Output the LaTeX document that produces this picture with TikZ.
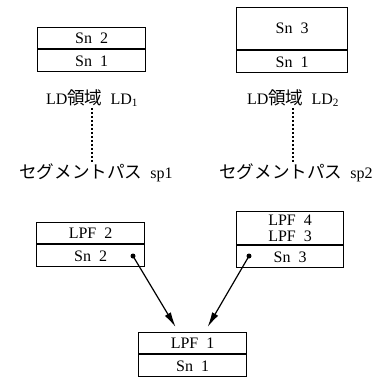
\documentclass[tikz,border=0pt]{standalone}
\usepackage{fontspec}
\setmainfont{Liberation Serif}
\newfontfamily\jpfont[Scale=1.1]{Noto Sans CJK JP}
\usetikzlibrary{arrows.meta,positioning,calc}

\tikzset{
  cell/.style={draw, line width=1.2pt, minimum width=108pt, minimum height=22pt, inner sep=0pt, font=\fontsize{16}{19}\selectfont},
  txt/.style={inner sep=1pt, font=\fontsize{16}{19}\selectfont},
  dot/.style={circle, fill, inner sep=0pt, minimum size=5pt},
  link/.style={line width=1.2pt, -{Latex[length=15pt,width=7pt]}},
  trail/.style={line width=1.6pt, dash pattern=on 2.5pt off 1.5pt}
}

\begin{document}
\begin{tikzpicture}[x=1pt, y=-1pt]
\useasboundingbox (0,0) rectangle (381,378);

% LD areas
\node[cell, anchor=north west, minimum height=21pt] (ldAtop) at (37,27) {Sn\enspace 2};
\node[cell, below=0pt of ldAtop] (ldAbot) {Sn\enspace 1};
\node[cell, anchor=north west, minimum width=111pt, minimum height=42pt] (ldBtop) at (236,7) {Sn\enspace 3};
\node[cell, minimum width=111pt, below=0pt of ldBtop] (ldBbot) {Sn\enspace 1};

\node[txt] (ldAlbl) at (92,98) {LD{\jpfont 領域}\enspace LD\textsubscript{1}};
\node[txt] (ldBlbl) at (293,98) {LD{\jpfont 領域}\enspace LD\textsubscript{2}};
\node[txt] (spA) at (96,173) {{\jpfont セグメントパス}\enspace sp1};
\node[txt] (spB) at (296,173) {{\jpfont セグメントパス}\enspace sp2};
\draw[trail] (ldAlbl.south) -- (ldAlbl.south |- spA.north);
\draw[trail] (ldBlbl.south) -- (ldBlbl.south |- spB.north);

% LPF chain
\node[cell, anchor=north west, minimum height=21pt] (lpfBtop) at (36,222) {LPF\enspace 2};
\node[cell, below=0pt of lpfBtop] (lpfBbot) {Sn\enspace 2};
\node[cell, anchor=north west, minimum width=107pt, minimum height=33pt, align=center] (lpfCtop) at (236,211) {LPF\enspace 4\\[-3pt]LPF\enspace 3};
\node[cell, minimum width=107pt, below=0pt of lpfCtop] (lpfCbot) {Sn\enspace 3};
\node[cell, anchor=north west, minimum height=21pt] (lpfAtop) at (138,332) {LPF\enspace 1};
\node[cell, below=0pt of lpfAtop] (lpfAbot) {Sn\enspace 1};

\node[dot] (dB) at (133,256) {};
\node[dot] (dC) at (249,256) {};
\coordinate (inB) at ($(lpfAtop.north)+(-17,-5)$);
\coordinate (inC) at ($(lpfAtop.north)+(15,-5)$);
\draw[link] (dB.center) -- (inB);
\draw[link] (dC.center) -- (inC);
\end{tikzpicture}
\end{document}
